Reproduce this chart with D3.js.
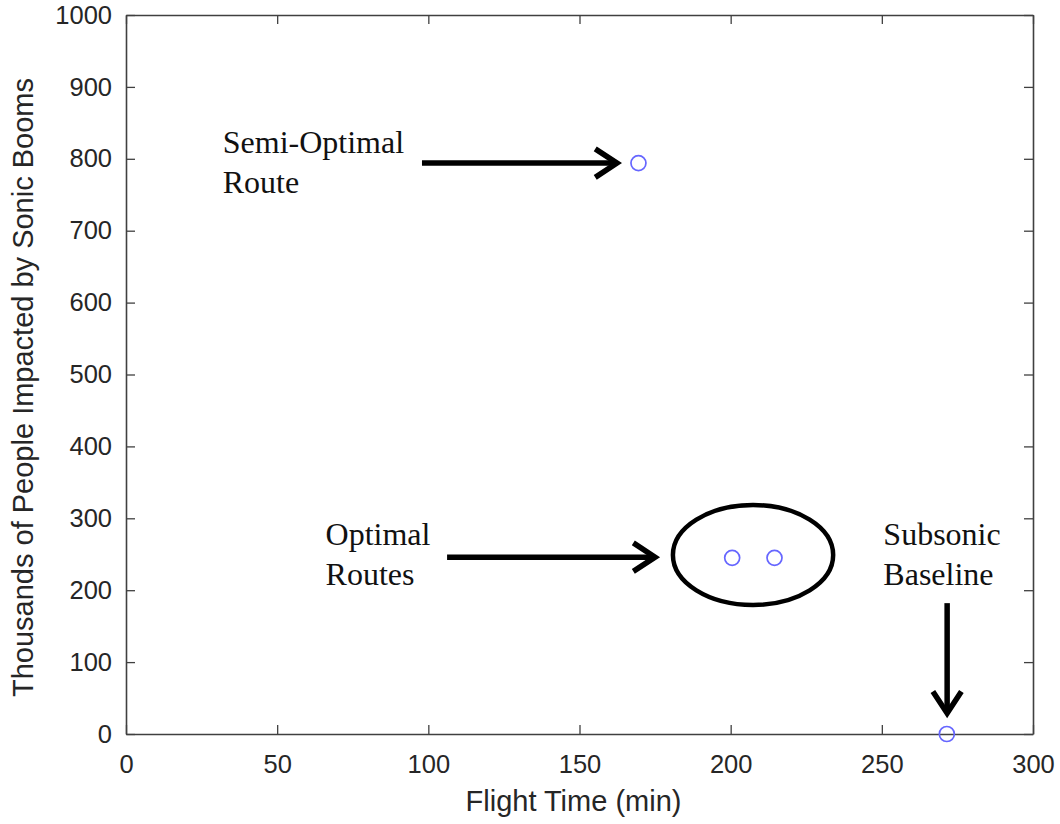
<!DOCTYPE html>
<html>
<head>
<meta charset="utf-8">
<script src="https://cdn.jsdelivr.net/npm/d3@7"></script>
<style>
  body { margin: 0; background: #fff; }
  svg { display: block; }
</style>
</head>
<body>
<div id="chart"></div>
<script>
// data: flight time (min) vs thousands of people impacted
var flightTime = [169.5, 200.5, 214.5, 271.5];
var impacted   = [794, 245, 245, 0];

var xTicks = [0, 50, 100, 150, 200, 250, 300];
var yTicks = [0, 100, 200, 300, 400, 500, 600, 700, 800, 900, 1000];

// annotations, in data units
var noteText = [
  { x: 32.0, y: 808, lines: ["Semi-Optimal", "Route"] },
  { x: 66.0, y: 263, lines: ["Optimal", "Routes"] },
  { x: 250.5, y: 263, lines: ["Subsonic", "Baseline"] }
];
var noteArrows = [
  { x1: 97.9,  y1: 794, x2: 162.4, y2: 794 },
  { x1: 106.2, y1: 246, x2: 175,   y2: 246 },
  { x1: 271.6, y1: 182, x2: 271.6, y2: 29 }
];
var noteEllipse = { cx: 207.4, cy: 249, rx: 26.5, ry: 69.5 };

var width = 1060, height = 824;
var margin = { top: 15, right: 27, bottom: 90, left: 126 };

var svg = d3.select("#chart").append("svg")
  .attr("width", width)
  .attr("height", height);

var x = d3.scaleLinear().domain([0, 300]).range([margin.left, width - margin.right]);
var y = d3.scaleLinear().domain([0, 1000]).range([height - margin.bottom, margin.top]);

var axisColor = "#404040";
var textColor = "#262626";
var sans = "'Liberation Sans', Arial, sans-serif";
var serif = "'Liberation Serif', 'Times New Roman', serif";
var fmt = d3.format("d");

function styleAxis(g) {
  g.selectAll("path.domain").attr("stroke", axisColor).attr("stroke-width", 1.6);
  g.selectAll(".tick line").attr("stroke", axisColor).attr("stroke-width", 1.3);
  g.selectAll(".tick text").attr("fill", textColor).style("font-family", sans).style("font-size", "25.5px");
}

svg.append("g")
  .attr("transform", "translate(0," + y(0) + ")")
  .call(d3.axisBottom(x).tickValues(xTicks).tickFormat(fmt).tickSizeInner(-9).tickSizeOuter(0).tickPadding(21))
  .call(styleAxis);

svg.append("g")
  .attr("transform", "translate(" + x(0) + ",0)")
  .call(d3.axisLeft(y).tickValues(yTicks).tickFormat(fmt).tickSizeInner(-9).tickSizeOuter(0).tickPadding(14))
  .call(styleAxis);

svg.append("g")
  .attr("transform", "translate(0," + y(1000) + ")")
  .call(d3.axisTop(x).tickValues(xTicks).tickSizeInner(-9).tickSizeOuter(0).tickFormat(""))
  .call(styleAxis);

svg.append("g")
  .attr("transform", "translate(" + x(300) + ",0)")
  .call(d3.axisRight(y).tickValues(yTicks).tickSizeInner(-9).tickSizeOuter(0).tickFormat(""))
  .call(styleAxis);

// axis titles
svg.append("text")
  .attr("x", (x(0) + x(300)) / 2 - 6)
  .attr("y", 811)
  .attr("text-anchor", "middle")
  .attr("fill", textColor)
  .style("font-family", sans)
  .style("font-size", "29px")
  .text("Flight Time (min)");

svg.append("text")
  .attr("transform", "translate(33," + ((y(0) + y(1000)) / 2 + 13) + ") rotate(-90)")
  .attr("text-anchor", "middle")
  .attr("fill", textColor)
  .style("font-family", sans)
  .style("font-size", "29px")
  .text("Thousands of People Impacted by Sonic Booms");

// points
svg.append("g")
  .selectAll("circle")
  .data(flightTime)
  .enter()
  .append("circle")
  .attr("cx", function (d) { return x(d); })
  .attr("cy", function (d, i) { return y(impacted[i]); })
  .attr("r", 7.5)
  .attr("fill", "none")
  .attr("stroke", "#6666ff")
  .attr("stroke-width", 1.7);

// annotations
var notes = svg.append("g");

notes.selectAll("text")
  .data(noteText)
  .enter()
  .append("text")
  .attr("x", function (d) { return x(d.x); })
  .attr("y", function (d) { return y(d.y); })
  .style("font-family", serif)
  .style("font-size", "32px")
  .attr("fill", "#111")
  .each(function (d) {
    var t = d3.select(this);
    d.lines.forEach(function (l, i) {
      t.append("tspan").attr("x", x(d.x)).attr("dy", i === 0 ? 0 : 40).text(l);
    });
  });

noteArrows.forEach(function (a) {
  var x1 = x(a.x1), y1 = y(a.y1), x2 = x(a.x2), y2 = y(a.y2);
  var ang = Math.atan2(y2 - y1, x2 - x1);
  var len = 26, spread = 0.58;
  notes.append("line")
    .attr("x1", x1).attr("y1", y1)
    .attr("x2", x2 - 4 * Math.cos(ang)).attr("y2", y2 - 4 * Math.sin(ang))
    .attr("stroke", "#000").attr("stroke-width", 5.5);
  var p1 = [x2 - len * Math.cos(ang - spread), y2 - len * Math.sin(ang - spread)];
  var p2 = [x2 - len * Math.cos(ang + spread), y2 - len * Math.sin(ang + spread)];
  notes.append("path")
    .attr("d", "M" + p1 + "L" + [x2, y2] + "L" + p2)
    .attr("fill", "none")
    .attr("stroke", "#000")
    .attr("stroke-width", 5.5)
    .attr("stroke-linejoin", "miter");
});

notes.append("ellipse")
  .attr("cx", x(noteEllipse.cx))
  .attr("cy", y(noteEllipse.cy))
  .attr("rx", x(noteEllipse.rx) - x(0))
  .attr("ry", y(0) - y(noteEllipse.ry))
  .attr("fill", "none")
  .attr("stroke", "#000")
  .attr("stroke-width", 4.5);
</script>
</body>
</html>
